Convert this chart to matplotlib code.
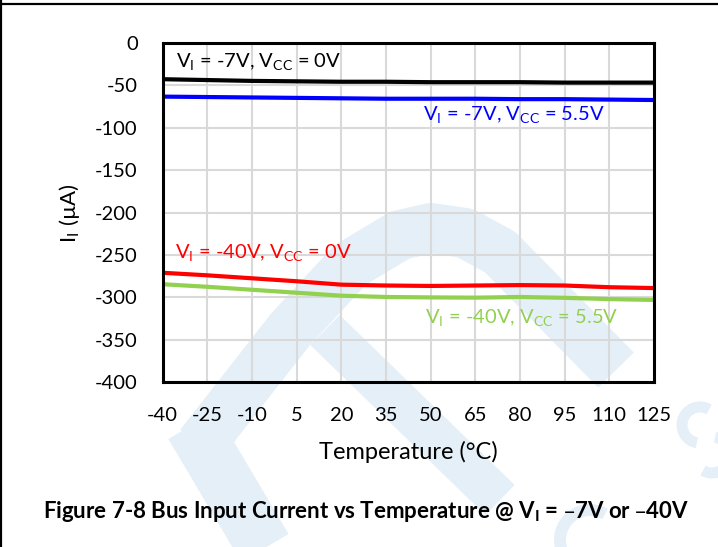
import numpy as np
import matplotlib
matplotlib.use('Agg')
import matplotlib.pyplot as plt
from matplotlib.patches import Arc

plt.rcParams['font.family'] = ['Lato', 'DejaVu Sans']
plt.rcParams['axes.unicode_minus'] = False

# Bus input current (uA) vs temperature (C)
temps = [-40, -25, -10, 5, 20, 35, 50, 65, 80, 95, 110, 125]
i_7v_0v = [-43, -44, -45, -45.5, -46, -46, -46.5, -46.5, -46.5, -47, -47, -47]
i_7v_55v = [-63.5, -64, -64.5, -65, -65.5, -66, -66, -66, -66.5, -66.5, -67, -67.5]
i_40v_0v = [-271, -274, -277.5, -281, -285, -286, -286.5, -286, -285.5, -286, -288, -289]
i_40v_55v = [-284.5, -287.5, -291, -294.5, -298, -299.5, -300, -300.3, -299.5, -300.5, -302, -303]

x_ticks = list(range(-40, 126, 15))
y_ticks = list(range(-400, 1, 50))

W, H = 718, 547
fig = plt.figure(figsize=(W / 100, H / 100), dpi=100)

# background layer in pixel coordinates: watermark, frame, caption
bg = fig.add_axes([0, 0, 1, 1], zorder=0)
bg.set_xlim(0, W)
bg.set_ylim(H, 0)
bg.axis('off')

wm = '#e5eff8'
px = 72 / 100  # pixel -> point
arch_x = [200, 290, 350, 400, 431, 465, 500, 616]
arch_y = [445, 330, 265, 235, 228, 233, 252, 370]
bg.plot(arch_x, arch_y, lw=50 * px, color=wm, solid_joinstyle='round', solid_capstyle='butt')
bg.plot([192, 272], [425, 560], lw=55 * px, color=wm, solid_capstyle='butt')
bg.plot([325, 500], [330, 500], lw=42 * px, color=wm, solid_capstyle='butt')
# small letter strokes on the lower right
bg.add_patch(Arc((590, 540), 60, 60, theta1=160, theta2=300, lw=12 * px, color=wm))
bg.add_patch(Arc((700, 425), 36, 36, theta1=100, theta2=300, lw=11 * px, color=wm))
bg.add_patch(Arc((712, 455), 36, 36, theta1=280, theta2=480, lw=11 * px, color=wm))

bg.plot([0, W], [4, 4], color='black', lw=2.2 * px)
bg.plot([1, 1], [0, H], color='black', lw=2.2 * px)

bg.text(366, 512, r'Figure 7-8 Bus Input Current vs Temperature @ V$_\mathregular{I}$ = –7V or –40V',
        fontsize=16, fontweight='bold', ha='center', va='center')

ax = fig.add_axes([162.7 / W, 1 - 382.3 / H, (654 - 162.7) / W, 339.6 / H], zorder=1)
ax.patch.set_alpha(0)

ax.plot(temps, i_7v_0v, color='black', lw=3)
ax.plot(temps, i_7v_55v, color='#0000ff', lw=3)
ax.plot(temps, i_40v_0v, color='#ff0000', lw=3)
ax.plot(temps, i_40v_55v, color='#92d050', lw=3)

ax.set_xlim(-40, 125)
ax.set_ylim(-400, 0)
ax.set_xticks(x_ticks)
ax.set_yticks(y_ticks)
ax.grid(True, color='#d9d9d9', lw=1.5)
ax.set_axisbelow(True)
ax.tick_params(length=0, labelsize=14.5, pad=18)
for s in ax.spines.values():
    s.set_linewidth(2.2)

ax.text(-35.5, -22.7, r'V$_\mathregular{I}$ = -7V, V$_\mathregular{CC}$ = 0V',
        fontsize=14.5, color='black', va='center')
ax.text(47.4, -85, r'V$_\mathregular{I}$ = -7V, V$_\mathregular{CC}$ = 5.5V',
        fontsize=14.5, color='#0000ff', va='center')
ax.text(-35.9, -247.7, r'V$_\mathregular{I}$ = -40V, V$_\mathregular{CC}$ = 0V',
        fontsize=14.5, color='#ff0000', va='center')
ax.text(48.1, -324.3, r'V$_\mathregular{I}$ = -40V, V$_\mathregular{CC}$ = 5.5V',
        fontsize=14.5, color='#92d050', va='center')

ax.set_xlabel('Temperature (°C)', fontsize=17)
ax.set_ylabel(r'I$_\mathregular{I}$ (µA)', fontsize=16)
ax.xaxis.set_label_coords((408 - 162.7) / 491.3, -(452 - 382.3) / 339.6)
ax.yaxis.set_label_coords(-(162.7 - 69) / 491.3, (382.3 - 213) / 339.6)
ax.xaxis.label.set_va('center')
ax.yaxis.label.set_va('center')

fig.savefig('out.png', dpi=100)
